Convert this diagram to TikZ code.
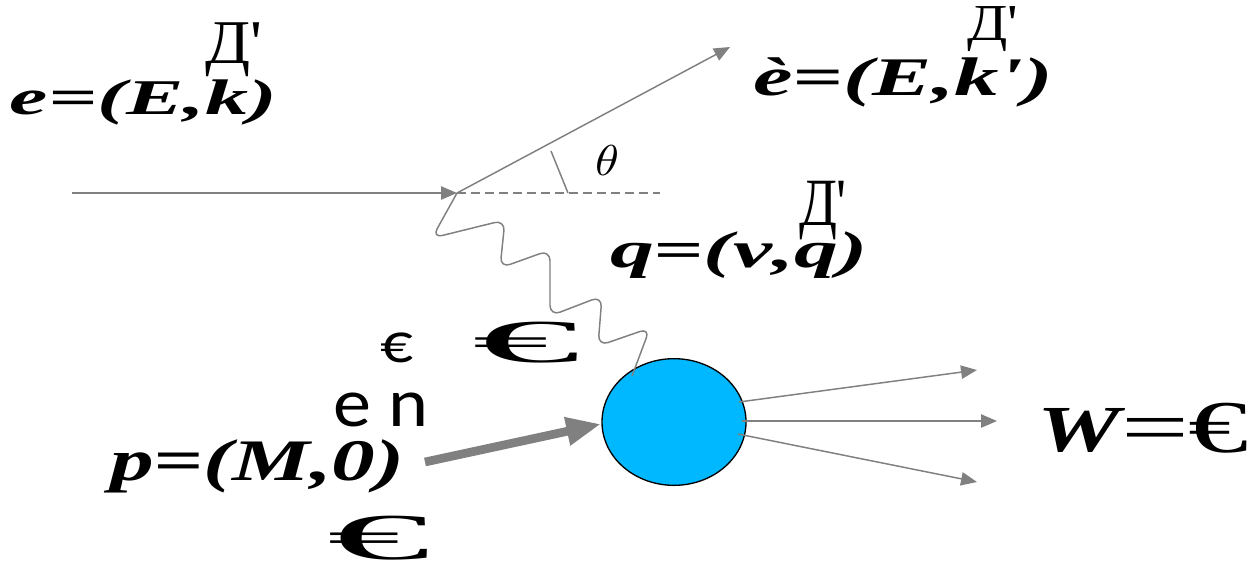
\documentclass[tikz,border=0pt]{standalone}
\usepackage{fontspec}
\usepackage{graphicx}
\usetikzlibrary{arrows.meta,shapes.geometric}
\newfontfamily\serf{Liberation Serif}
\newfontfamily\serbi{Liberation Serif Bold Italic}
\newfontfamily\serb{Liberation Serif Bold}
\newfontfamily\sansf{Carlito}
\definecolor{linegray}{RGB}{128,128,128}
\definecolor{blobblue}{RGB}{0,184,255}
\newcommand{\fitto}[3]{\resizebox*{#1}{#2}{#3}}
\tikzset{
  lbl/.style={anchor=north west, inner sep=0pt, outer sep=0pt},
  thin line/.style={draw=linegray, line width=1.1pt},
  tip/.style={-{Triangle[length=12pt,width=10pt]}},
  bigtip/.style={-{Triangle[length=26pt,width=20pt]}},
}
\begin{document}
\begin{tikzpicture}[x=0.75pt,y=-0.75pt]
\useasboundingbox (0,0) rectangle (1251,568);
\clip (0,0) rectangle (1251,568);
\fill[white] (0,0) rectangle (1251,568);

% coordinates
\coordinate (instart) at (72,193);
\coordinate (vtx) at (457,193);
\coordinate (dashend) at (660,193);
\coordinate (outtip) at (730,47);
\coordinate (angA) at (551,151);
\coordinate (angB) at (568,193);
\coordinate (pstart) at (425,462);
\coordinate (ptip) at (601,424);
\coordinate (o1s) at (739,402);
\coordinate (o1e) at (977,370);
\coordinate (o2s) at (742,421);
\coordinate (o2e) at (997,421);
\coordinate (o3s) at (738,434);
\coordinate (o3e) at (977,482);
\coordinate (phend) at (632,376);

% blob
\node[ellipse, draw=black, line width=1pt, fill=blobblue, minimum width=108pt, minimum height=95pt, inner sep=0pt] (blob) at (674,422) {};

% electron lines
\draw[thin line, tip] (instart) -- (vtx);
\draw[thin line, dash pattern=on 6.5pt off 4pt] (vtx) -- (dashend);
\draw[thin line, tip] (vtx) -- (outtip);
\draw[thin line] (angA) -- (angB);

% photon
\draw[thin line, rounded corners=8pt] (vtx) -- (432,238) -- (505,220) -- (500,268) -- (550,250) -- (550,316) -- (602,296) -- (598,346) -- (650,328) -- (phend);

% incoming proton
\draw[draw=linegray, line width=6.5pt, bigtip] (pstart) -- (ptip);

% outgoing
\draw[thin line, tip] (o1s) -- (o1e);
\draw[thin line, tip] (o2s) -- (o2e);
\draw[thin line, tip] (o3s) -- (o3e);

% labels
\node[lbl] (d1) at (205,23) {\fitto{42.75pt}{40.5pt}{\serf Д'}};
\node[lbl] (ek) at (10,80) {\fitto{200pt}{34pt}{\serbi e=(E,k)}};
\node[lbl] (d2) at (967,7) {\fitto{38.25pt}{33.75pt}{\serf Д'}};
\node[lbl] (ekp) at (753,58) {\fitto{225pt}{37pt}{\serbi è=(E,k')}};
\node[lbl] (d3) at (799,181) {\fitto{36pt}{44pt}{\serf Д'}};
\node[lbl] (qnu) at (610,232) {\fitto{193pt}{35pt}{\serbi q=(ν,q)}};
\node[lbl] (theta) at (595,145) {\fitto{18pt}{22.5pt}{$\theta$}};
\node[lbl] (eur1) at (380,333) {\fitto{24.75pt}{22.5pt}{\sansf €}};
\node[lbl] (eur2) at (472,322) {\fitto{81pt}{30.75pt}{\serf €}};
\node[lbl] (en) at (333,393) {\fitto{71.25pt}{25.5pt}{\sansf e n}};
\node[lbl] (pM) at (110,440) {\fitto{221pt}{40pt}{\serbi p=(M,0)}};
\node[lbl] (eur3) at (327,516) {\fitto{77.25pt}{33pt}{\serf €}};
\node[lbl] (W) at (1037,408) {\fitto{62pt}{33pt}{\serbi W}};
\node[lbl] (eur4) at (1121,403) {\fitto{96pt}{37.5pt}{\serf =€}};
\end{tikzpicture}
\end{document}
